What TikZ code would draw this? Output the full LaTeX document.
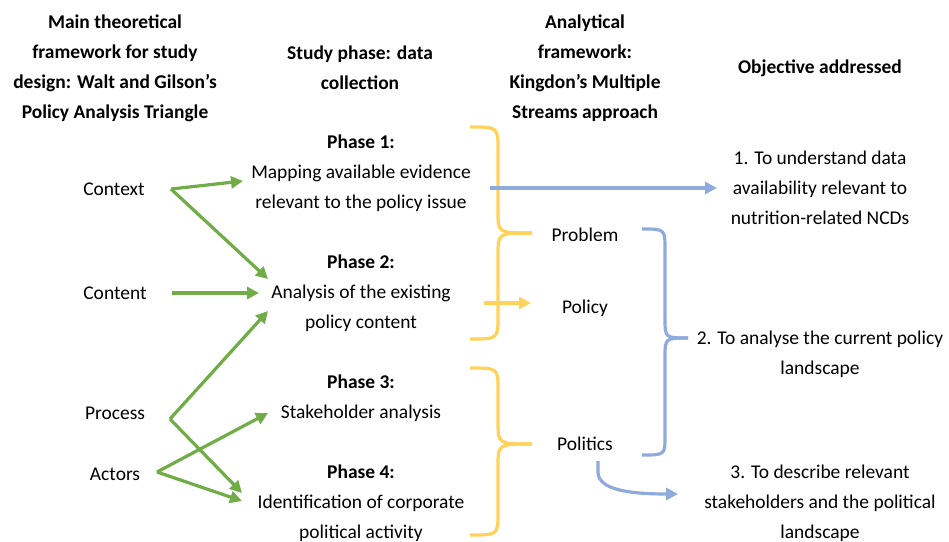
\documentclass[tikz,border=0pt]{standalone}
\usepackage{fontspec}
\setmainfont{Carlito}
\usetikzlibrary{arrows.meta}
\definecolor{grn}{RGB}{112,173,71}
\definecolor{ylw}{RGB}{255,210,90}
\definecolor{blu}{RGB}{143,170,220}
\begin{document}
\begin{tikzpicture}[x=0.75pt,y=-0.75pt,
  txt/.style={align=center,inner sep=0pt,font=\fontsize{14.6}{22.5}\selectfont},
  hd/.style={txt,font=\fontsize{14.6}{22.5}\selectfont\bfseries},
  garr/.style={draw=grn,line width=2.4pt,-{Triangle[length=9pt,width=9pt]}},
  barr/.style={draw=blu,line width=2.4pt,-{Triangle[length=9pt,width=9pt]}},
  yarr/.style={draw=ylw,line width=2.4pt,-{Triangle[length=9pt,width=9pt]}},
  ybr/.style={draw=ylw,line width=2.4pt},
  bbr/.style={draw=blu,line width=2.4pt}]
\useasboundingbox (0,0) rectangle (949,542);
% headers
\node[hd] (h1) at (115,68) {Main theoretical\\framework for study\\design: Walt and Gilson’s\\Policy Analysis Triangle};
\node[hd] (h2) at (360,68) {Study phase: data\\collection};
\node[hd] (h3) at (585,68) {Analytical\\framework:\\Kingdon’s Multiple\\Streams approach};
\node[hd] (h4) at (820,68) {Objective addressed};
% left column
\node[txt] (ctx) at (114,189) {Context};
\node[txt] (cnt) at (115,293) {Content};
\node[txt] (prc) at (115,413) {Process};
\node[txt] (act) at (115,474) {Actors};
% phases
\node[txt] (p1) at (361,173) {\textbf{Phase 1:}\\Mapping available evidence\\relevant to the policy issue};
\node[txt] (p2) at (361,293) {\textbf{Phase 2:}\\Analysis of the existing\\policy content};
\node[txt] (p3) at (361,398) {\textbf{Phase 3:}\\Stakeholder analysis};
\node[txt] (p4) at (361,503) {\textbf{Phase 4:}\\Identification of corporate\\political activity};
% streams
\node[txt] (prob) at (585,235) {Problem};
\node[txt] (pol) at (585,308) {Policy};
\node[txt] (polt) at (585,444) {Politics};
% objectives
\node[txt] (o1) at (820,188) {1. To understand data\\availability relevant to\\nutrition-related NCDs};
\node[txt] (o2) at (820,354) {2. To analyse the current policy\\landscape};
\node[txt] (o3) at (820,503) {3. To describe relevant\\stakeholders and the political\\landscape};
% coordinates
\coordinate (cS) at (171,189);
\coordinate (p1in) at (243,181);
\coordinate (p2inA) at (268,279);
\coordinate (cnS) at (172,293);
\coordinate (p2inB) at (259,293);
\coordinate (prS) at (170,419);
\coordinate (p2inC) at (268,311);
\coordinate (p4inA) at (242,493);
\coordinate (acS) at (157,472);
\coordinate (p3in) at (268,413);
\coordinate (p4inB) at (242,501);
% green arrows
\draw[garr] (cS) -- (p1in);
\draw[garr] (cS) -- (p2inA);
\draw[garr] (cnS) -- (p2inB);
\draw[garr] (prS) -- (p2inC);
\draw[garr] (prS) -- (p4inA);
\draw[garr] (acS) -- (p3in);
\draw[garr] (acS) -- (p4inB);
% yellow braces
\draw[ybr] (470,127) .. controls (498,127) .. (498,150) -- (498,212)
  .. controls (498,233) .. (532,233);
\draw[ybr] (532,233) .. controls (498,233) .. (498,255) -- (498,316)
  .. controls (498,339) .. (470,339);
\draw[ybr] (470,368) .. controls (498,368) .. (498,390) -- (498,422)
  .. controls (498,444) .. (532,444);
\draw[ybr] (532,444) .. controls (498,444) .. (498,466) -- (498,512)
  .. controls (498,535) .. (470,535);
\coordinate (yS) at (484,303);
\coordinate (yE) at (531,303);
\draw[yarr] (yS) -- (yE);
% blue
\coordinate (bS) at (490,188);
\coordinate (bE) at (717,188);
\draw[barr] (bS) -- (bE);
\draw[bbr] (642,229) .. controls (665,229) .. (665,250) -- (665,318)
  .. controls (665,338) .. (688,338);
\draw[bbr] (688,338) .. controls (665,338) .. (665,358) -- (665,436)
  .. controls (665,455) .. (642,455);
\coordinate (bpS) at (598,461);
\coordinate (bpE) at (678,494);
\draw[barr] (bpS) -- (598,472) .. controls (598,490) and (630,494) .. (bpE);
\end{tikzpicture}
\end{document}
